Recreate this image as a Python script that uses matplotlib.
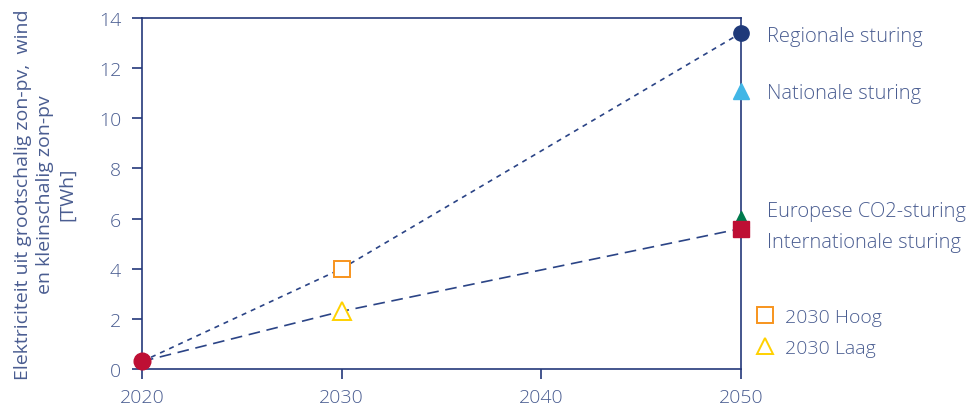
import matplotlib.pyplot as plt
from matplotlib.lines import Line2D

# Data
years_path = [2020, 2030, 2050]
hoog_path = [0.3, 4.0, 13.4]
laag_path = [0.3, 2.3, 5.6]

start_year = 2020
start_value = 0.3

scen_names = ["Regionale sturing", "Nationale sturing",
              "Europese CO2-sturing", "Internationale sturing"]
scen_values = [13.4, 11.1, 6.0, 5.6]
scen_label_y = [13.3, 11.0, 6.3, 5.05]

y2030_names = ["2030 Hoog", "2030 Laag"]
y2030_values = [4.0, 2.3]

text_col = "#4a5d91"
axis_col = "#24387a"
line_col = "#2b4486"

plt.rcParams['font.family'] = ['Open Sans', 'DejaVu Sans']
plt.rcParams['font.weight'] = 'light'

fig = plt.figure(figsize=(9.71, 4.10), dpi=100)
ax = fig.add_axes([0.1462, 0.0976, 0.6169, 0.8561])

# lines
ax.plot(years_path, hoog_path, color=line_col, lw=1.2, dashes=(3, 3), zorder=2)
ax.plot(years_path, laag_path, color=line_col, lw=1.2, dashes=(7, 4), zorder=2)

# 2030 markers
ax.plot(2030, y2030_values[0], marker='s', ms=12, mfc='white', mec='#f7941d',
        mew=1.4, ls='none', zorder=3)
ax.plot(2030, y2030_values[1], marker='^', ms=13, mfc='white', mec='#ffd100',
        mew=1.4, ls='none', zorder=3)

# start point
ax.plot(start_year, start_value, marker='o', ms=12, color='#be0f34', ls='none',
        zorder=4, clip_on=False)

# 2050 scenario markers
ax.plot(2050, scen_values[0], marker='o', ms=11, color='#1f3a7a', ls='none',
        zorder=4, clip_on=False)
ax.plot(2050, scen_values[1], marker='^', ms=12, color='#41b6e6', ls='none',
        zorder=4, clip_on=False)
ax.plot(2050, scen_values[2], marker='^', ms=12, color='#007a4d', ls='none',
        zorder=4, clip_on=False)
ax.plot(2050, scen_values[3], marker='s', ms=11, color='#be0f34', ls='none',
        zorder=5, clip_on=False)

for name, y in zip(scen_names, scen_label_y):
    ax.text(2051.3, y, name, color=text_col, fontsize=14.5, va='center',
            ha='left', clip_on=False)

ax.set_xlim(2020, 2050)
ax.set_ylim(0, 14)
ax.set_xticks([2020, 2030, 2040, 2050])
ax.set_yticks(range(0, 15, 2))

for s in ax.spines.values():
    s.set_color(axis_col)
    s.set_linewidth(1.2)

ax.tick_params(axis='both', colors=axis_col, labelcolor=text_col,
               labelsize=14, direction='out', length=7, width=1.2)
ax.tick_params(axis='x', pad=7)
ax.tick_params(axis='y', pad=8)

ax.set_ylabel("Elektriciteit uit grootschalig zon-pv,  wind\n"
              "en kleinschalig zon-pv\n[TWh]",
              color=text_col, fontsize=14, linespacing=1.3, labelpad=16)

# legend for 2030 markers
handles = [
    Line2D([], [], marker='s', ms=11, mfc='white', mec='#f7941d', mew=1.4,
           ls='none'),
    Line2D([], [], marker='^', ms=12, mfc='white', mec='#ffd100', mew=1.4,
           ls='none'),
]
leg = fig.legend(handles, y2030_names, loc='upper left',
                 bbox_to_anchor=(0.77, 0.265), frameon=False, fontsize=14,
                 handletextpad=0.5, labelspacing=0.65, handlelength=1.0,
                 borderaxespad=0)
for t in leg.get_texts():
    t.set_color(text_col)

fig.savefig("out.png", dpi=100)
